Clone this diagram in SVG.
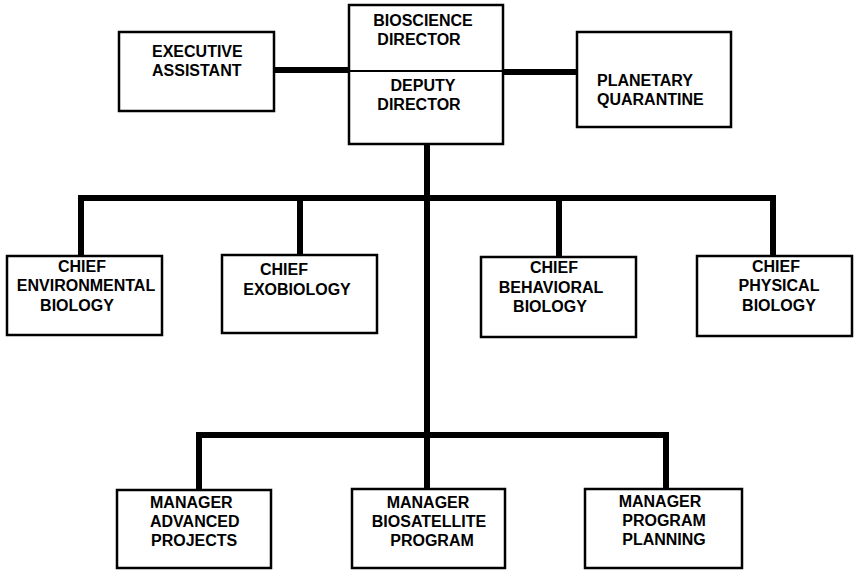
<svg xmlns="http://www.w3.org/2000/svg" width="855" height="570" viewBox="0 0 855 570">
  <style>
    .box { fill: #fff; stroke: #000; stroke-width: 2.5; }
    .link { fill: none; stroke: #000; stroke-width: 6; stroke-linejoin: miter; stroke-linecap: butt; }
    text { font-family: "Liberation Sans", Arial, sans-serif; font-weight: bold; font-size: 16px; fill: #000; }
    .c { text-anchor: middle; }
  </style>
  <rect width="855" height="570" fill="#fff"/>

  <!-- reporting lines -->
  <g id="connectors">
    <path class="link" d="M274 70 H349"/>
    <path class="link" d="M503 72 H577"/>
    <path class="link" d="M427 144 V490"/>
    <path class="link" d="M81 256 V198 H773 V256"/>
    <path class="link" d="M300 198 V255"/>
    <path class="link" d="M559 198 V257"/>
    <path class="link" d="M199 490 V435 H666 V489"/>
  </g>

  <g id="director">
    <rect class="box" x="349" y="5" width="154" height="139"/>
    <line x1="349" y1="71" x2="503" y2="71" stroke="#000" stroke-width="2"/>
    <text class="c" x="423" y="26">BIOSCIENCE</text>
    <text class="c" x="419" y="45">DIRECTOR</text>
    <text class="c" x="423" y="91">DEPUTY</text>
    <text class="c" x="419" y="110">DIRECTOR</text>
  </g>

  <g id="executive-assistant">
    <rect class="box" x="119" y="32" width="155" height="79"/>
    <text x="152" y="57">EXECUTIVE</text>
    <text x="152" y="76">ASSISTANT</text>
  </g>

  <g id="planetary-quarantine">
    <rect class="box" x="577" y="32" width="154" height="95"/>
    <text x="597" y="86">PLANETARY</text>
    <text x="597" y="105">QUARANTINE</text>
  </g>

  <g id="chief-environmental">
    <rect class="box" x="7" y="256" width="155" height="79"/>
    <text class="c" x="82" y="272">CHIEF</text>
    <text class="c" x="86" y="291">ENVIRONMENTAL</text>
    <text class="c" x="77" y="311">BIOLOGY</text>
  </g>

  <g id="chief-exobiology">
    <rect class="box" x="222" y="255" width="155" height="78"/>
    <text class="c" x="284" y="275">CHIEF</text>
    <text class="c" x="297" y="295">EXOBIOLOGY</text>
  </g>

  <g id="chief-behavioral">
    <rect class="box" x="481" y="257" width="155" height="80"/>
    <text class="c" x="554" y="273">CHIEF</text>
    <text class="c" x="551" y="293">BEHAVIORAL</text>
    <text class="c" x="550" y="312">BIOLOGY</text>
  </g>

  <g id="chief-physical">
    <rect class="box" x="697" y="256" width="155" height="80"/>
    <text class="c" x="776" y="272">CHIEF</text>
    <text class="c" x="779" y="291">PHYSICAL</text>
    <text class="c" x="779" y="311">BIOLOGY</text>
  </g>

  <g id="manager-advanced-projects">
    <rect class="box" x="117" y="490" width="154" height="78"/>
    <text x="150" y="508">MANAGER</text>
    <text x="150" y="527">ADVANCED</text>
    <text x="151" y="546">PROJECTS</text>
  </g>

  <g id="manager-biosatellite">
    <rect class="box" x="352" y="489" width="153" height="79"/>
    <text class="c" x="428" y="508">MANAGER</text>
    <text class="c" x="429" y="527">BIOSATELLITE</text>
    <text class="c" x="432" y="546">PROGRAM</text>
  </g>

  <g id="manager-program-planning">
    <rect class="box" x="585" y="489" width="157" height="79"/>
    <text class="c" x="660" y="507">MANAGER</text>
    <text class="c" x="664" y="526">PROGRAM</text>
    <text class="c" x="664" y="545">PLANNING</text>
  </g>
</svg>
